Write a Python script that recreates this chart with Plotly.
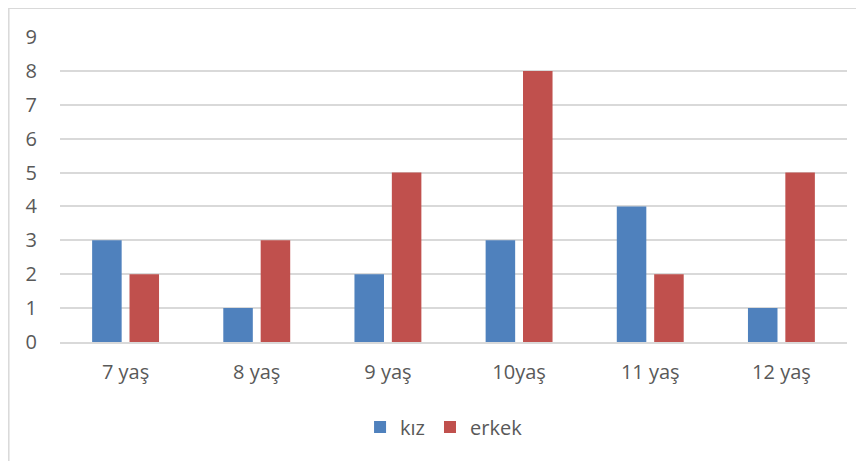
import plotly.graph_objects as go

categories = ["7 yaş", "8 yaş", "9 yaş", "10yaş", "11 yaş", "12 yaş"]
kiz = [3, 1, 2, 3, 4, 1]
erkek = [2, 3, 5, 8, 2, 5]
y_ticks = list(range(0, 10))

font_family = "Open Sans, Carlito, Calibri, sans-serif"
text_color = "#595959"
grid_color = "#D9D9D9"

fig = go.Figure()
fig.add_trace(go.Bar(name="kız", x=categories, y=kiz, marker=dict(color="#4F81BD", line=dict(width=0))))
fig.add_trace(go.Bar(name="erkek", x=categories, y=erkek, marker=dict(color="#C0504D", line=dict(width=0))))

fig.update_layout(
    width=864, height=461,
    margin=dict(l=52, r=25, t=29, b=127, autoexpand=False),
    paper_bgcolor="white", plot_bgcolor="white",
    barmode="group", bargap=0.43, bargroupgap=0.21,
    font=dict(family=font_family, color=text_color, size=20),
    showlegend=True,
    legend=dict(orientation="h", x=0.488, xanchor="center", y=-0.279, yanchor="middle",
                font=dict(size=20, color=text_color),
                traceorder="normal"),
    xaxis=dict(showgrid=False, showline=True, linecolor=grid_color, linewidth=1.5,
               ticks="", ticklabelstandoff=11, tickfont=dict(size=20, color=text_color)),
    yaxis=dict(range=[0, 9], tickvals=y_ticks, showgrid=True, gridcolor=grid_color, gridwidth=1.5,
               zeroline=False, showline=False, ticks="", ticklabelstandoff=22,
               tickfont=dict(size=20, color=text_color)),
    shapes=[dict(type="rect", xref="paper", yref="paper",
                 x0=(0.8 - 52) / 787, y0=-0.6, x1=1.2, y1=(334 - 0.2) / 305,
                 line=dict(color=grid_color, width=1.5), fillcolor="rgba(0,0,0,0)", layer="below")],
)

fig.write_html("out.html")
